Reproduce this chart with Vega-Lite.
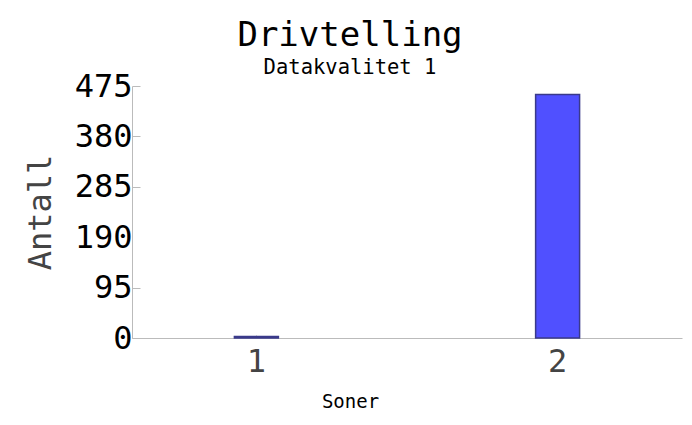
{
  "$schema": "https://vega.github.io/schema/vega-lite/v6.json",
  "width": 550,
  "height": 252,
  "autosize": "none",
  "padding": {"left": 132, "top": 86, "right": 10, "bottom": 87},
  "background": "white",
  "config": {"view": {"stroke": null}, "font": "DejaVu Sans Mono"},
  "title": {
    "text": "Drivtelling",
    "subtitle": "Datakvalitet 1",
    "font": "DejaVu Sans Mono",
    "subtitleFont": "DejaVu Sans Mono",
    "fontSize": 34,
    "subtitleFontSize": 20.5,
    "fontWeight": "normal",
    "color": "black",
    "subtitleColor": "black",
    "anchor": "middle",
    "dx": -57,
    "offset": -8,
    "subtitlePadding": 5
  },
  "data": {"values": [
    {"Soner": "1", "Antall": 3},
    {"Soner": "2", "Antall": 459}
  ]},
  "mark": {"type": "bar", "fill": "#5050ff", "stroke": "#3a3a8a", "strokeWidth": 1.5},
  "encoding": {
    "x": {
      "field": "Soner", "type": "nominal",
      "scale": {"paddingInner": 0.854, "paddingOuter": 0.34},
      "axis": {
        "title": "Soner", "titleFontSize": 19, "titleFontWeight": "normal", "titleColor": "black",
        "titleX": 218, "titleAlign": "center", "titlePadding": 15,
        "labelAngle": 0, "labelFontSize": 32, "labelColor": "#444", "labelPadding": 11,
        "domainColor": "#bbb", "tickColor": "#bbb", "tickSize": -3
      }
    },
    "y": {
      "field": "Antall", "type": "quantitative",
      "scale": {"domain": [0, 475], "nice": false},
      "axis": {
        "title": "Antall", "titleFontSize": 32, "titleFontWeight": "normal", "titleColor": "#444",
        "titlePadding": 17,
        "values": [0, 95, 190, 285, 380, 475],
        "labelFontSize": 32, "labelColor": "black", "labelPadding": 8,
        "grid": false, "domainColor": "#bbb", "tickColor": "#bbb", "tickSize": -8,
        "tickOpacity": {"condition": {"test": "datum.value === 190", "value": 0}, "value": 1}
      }
    }
  }
}
